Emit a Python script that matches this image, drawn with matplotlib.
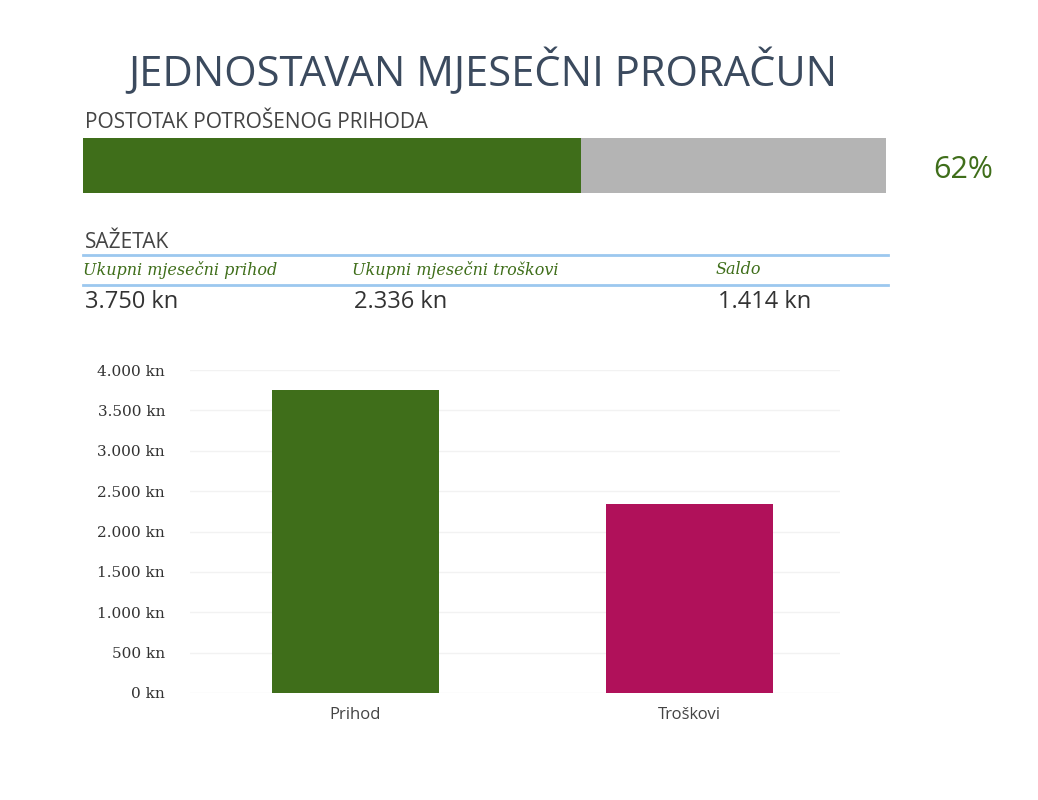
import matplotlib
matplotlib.use("Agg")
import matplotlib.pyplot as plt
from matplotlib.patches import Rectangle

categories = ["Prihod", "Troškovi"]
values = [3750, 2336]
bar_colors = ["#3f6e1a", "#b0115a"]
summary_labels = ["Ukupni mjesečni prihod", "Ukupni mjesečni troškovi", "Saldo"]
summary_values = ["3.750 kn", "2.336 kn", "1.414 kn"]
pct = 0.62
yticks = [0, 500, 1000, 1500, 2000, 2500, 3000, 3500, 4000]

W, H = 1038, 800
fig = plt.figure(figsize=(W/100, H/100), dpi=100)
def fx(x): return x / W
def fy(y): return 1 - y / H

fig.text(fx(483), fy(72), "JEDNOSTAVAN MJESEČNI PRORAČUN", ha="center", va="center",
         fontsize=30, color="#3b4a5e", family="Open Sans")
fig.text(fx(85), fy(123), "POSTOTAK POTROŠENOG PRIHODA", ha="left", va="center",
         fontsize=15, color="#444444", family="Open Sans")
# progress bar
pb = fig.add_axes([fx(83), fy(193), fx(886) - fx(83), fy(138) - fy(193)])
pb.barh([0], [1], height=1, color="#b4b4b4")
pb.barh([0], [pct], height=1, color="#3f6e1a")
pb.set_xlim(0, 1); pb.set_ylim(-0.5, 0.5); pb.axis("off")
fig.text(fx(963), fy(170), f"{round(pct*100)}%", ha="center", va="center",
         fontsize=22, color="#3f6e1a", family="Open Sans")

fig.text(fx(85), fy(242), "SAŽETAK", ha="left", va="center", fontsize=15,
         color="#444444", family="Open Sans")
for yy in (255, 285):
    fig.add_artist(plt.Line2D([fx(83), fx(888)], [fy(yy), fy(yy)], color="#9cc8ef", lw=2))
xs = [83, 352, 716]
for x, l, v in zip(xs, summary_labels, summary_values):
    fig.text(fx(x), fy(270), l, ha="left", va="center", fontsize=11.5, style="italic",
             color="#3f6e1a", family="DejaVu Serif")
    fig.text(fx(x + 2), fy(302), v, ha="left", va="center", fontsize=17,
             color="#333333", family="Open Sans")

ax = fig.add_axes([fx(190), fy(693), fx(840) - fx(190), fy(370) - fy(693)])
ax.bar(range(len(values)), values, width=0.5, color=bar_colors, zorder=3)
ax.set_xlim(-0.494, 1.452); ax.set_ylim(0, 4000)
ax.set_yticks(yticks)
ax.set_yticklabels([f"{v:,}".replace(",", ".") + " kn" for v in yticks],
                   family="DejaVu Serif", fontsize=11, color="#333333")
ax.set_xticks(range(len(values)))
ax.set_xticklabels(categories, fontsize=12, color="#444444", family="Open Sans")
ax.grid(axis="y", color="#f2f2f2", lw=1)
for s in ax.spines.values(): s.set_visible(False)
ax.tick_params(length=0, pad=18)
ax.tick_params(axis="x", pad=10)
fig.savefig("out.png", dpi=100, facecolor="white")
